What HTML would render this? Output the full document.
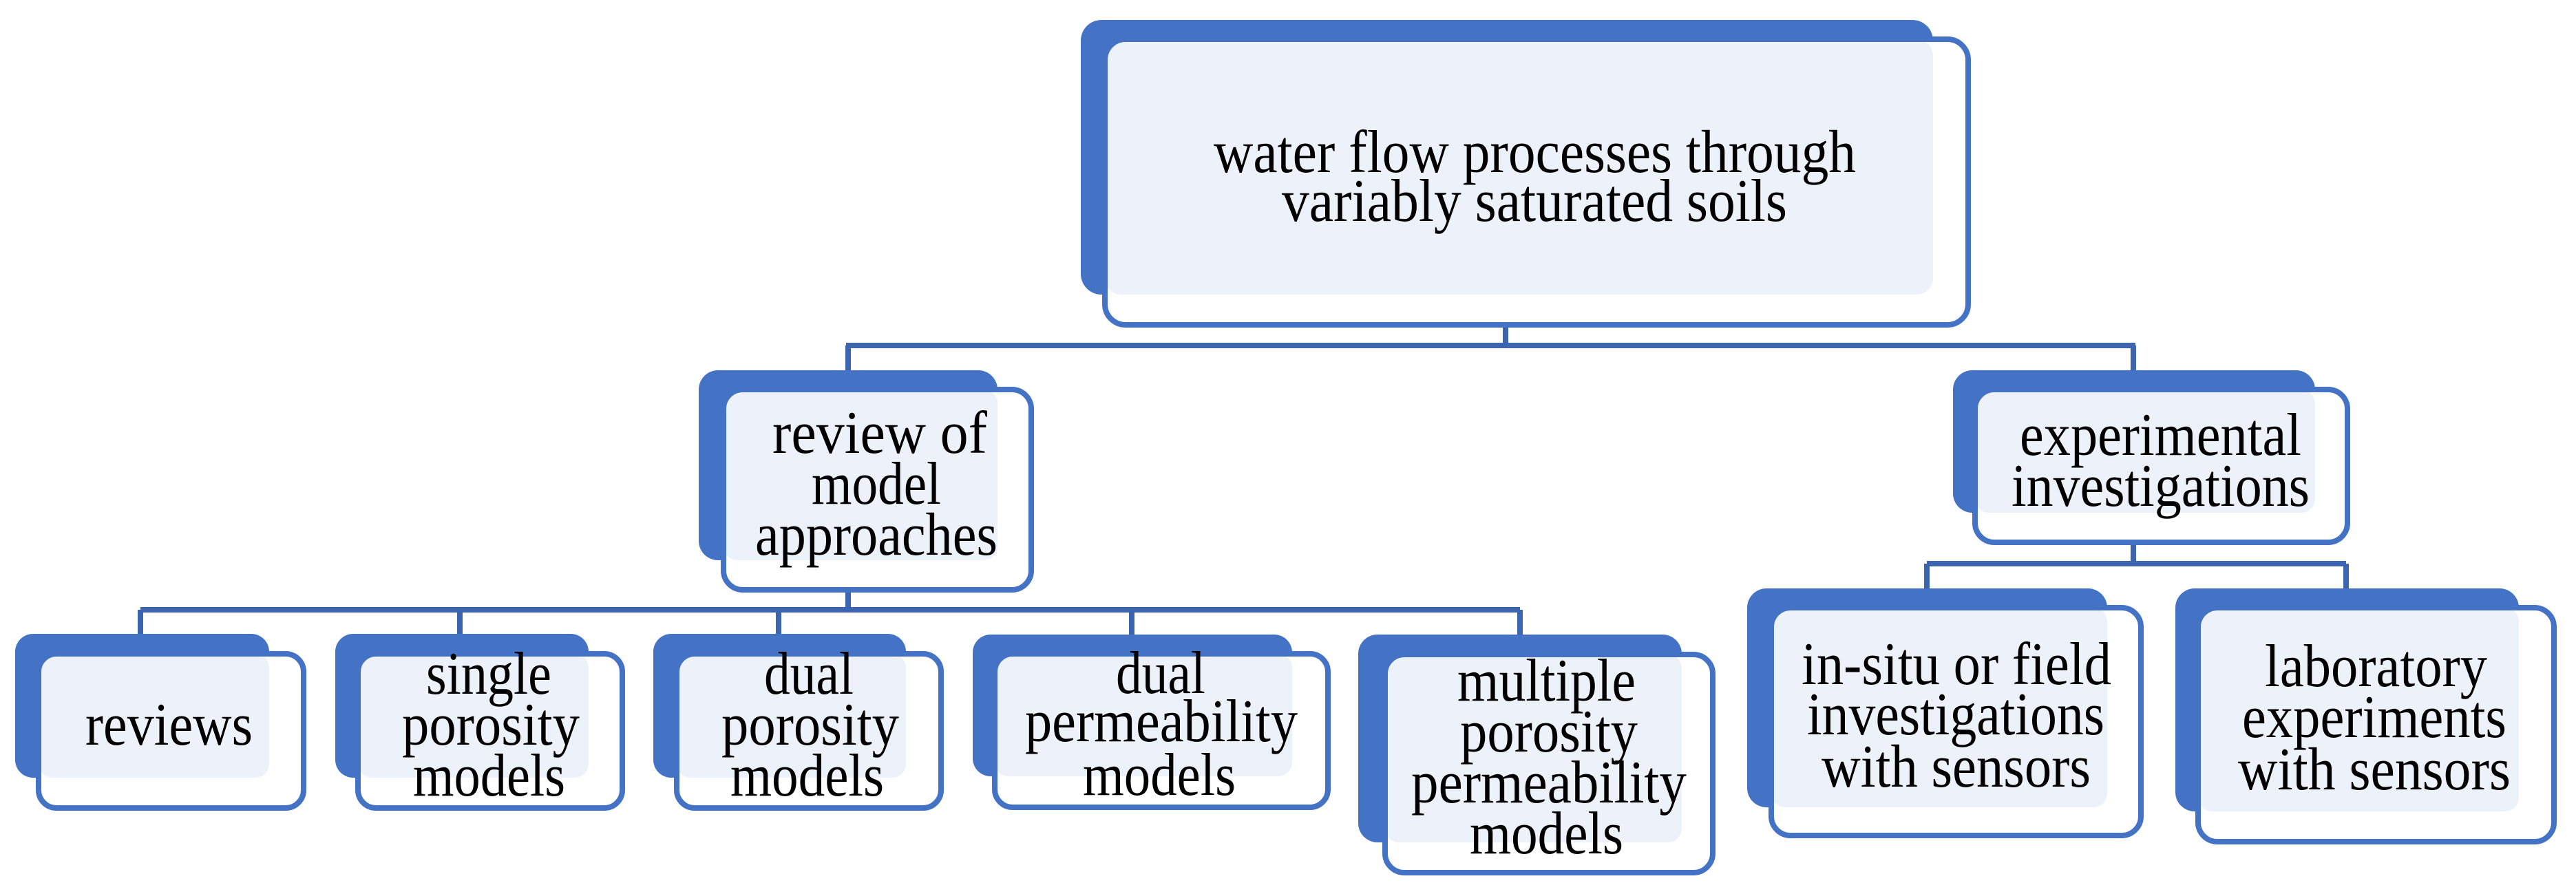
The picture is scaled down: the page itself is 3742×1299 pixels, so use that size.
<!DOCTYPE html>
<html><head><meta charset="utf-8"><style>
html,body{margin:0;padding:0;background:#fff;}
svg{display:block;}
text{font-family:"Liberation Serif",serif;font-size:88px;fill:#000;}
</style></head><body>
<svg width="3742" height="1299" viewBox="0 0 3742 1299" xmlns="http://www.w3.org/2000/svg">
<g stroke="#3D64AE" stroke-width="8" fill="none">
<path d="M2187 472V502M1229 502H3102M1232 502V540M3099 502V540"/>
<path d="M1232 857V886M204 886H2208M204 886V922M668 886V922M1131 886V922M1644 886V922M2208 886V922"/>
<path d="M3099 788V819M2799 819H3408M2799 819V856M3408 819V856"/>
</g>
<g id="nodes">
<rect x="1570" y="29" width="1238" height="399" rx="30" fill="#4472C4"/>
<rect x="1605" y="57" width="1254" height="415" rx="30" fill="#fff"/>
<rect x="1605" y="57" width="1203" height="371" rx="24" fill="#EDF1F9"/>
<rect x="1605" y="57" width="1254" height="415" rx="30" fill="none" stroke="#4472C4" stroke-width="8"/>
<rect x="1015" y="538" width="434" height="276" rx="28" fill="#4472C4"/>
<rect x="1051" y="566" width="447" height="291" rx="28" fill="#fff"/>
<rect x="1051" y="566" width="398" height="248" rx="20" fill="#EDF1F9"/>
<rect x="1051" y="566" width="447" height="291" rx="28" fill="none" stroke="#4472C4" stroke-width="8"/>
<rect x="2837" y="538" width="526" height="207" rx="28" fill="#4472C4"/>
<rect x="2869" y="566" width="541" height="222" rx="28" fill="#fff"/>
<rect x="2869" y="566" width="494" height="179" rx="20" fill="#EDF1F9"/>
<rect x="2869" y="566" width="541" height="222" rx="28" fill="none" stroke="#4472C4" stroke-width="8"/>
<rect x="22" y="921" width="369" height="209" rx="26" fill="#4472C4"/>
<rect x="56" y="950" width="385" height="224" rx="26" fill="#fff"/>
<rect x="56" y="950" width="335" height="180" rx="20" fill="#EDF1F9"/>
<rect x="56" y="950" width="385" height="224" rx="26" fill="none" stroke="#4472C4" stroke-width="8"/>
<rect x="487" y="921" width="368" height="209" rx="26" fill="#4472C4"/>
<rect x="520" y="950" width="384" height="224" rx="26" fill="#fff"/>
<rect x="520" y="950" width="335" height="180" rx="20" fill="#EDF1F9"/>
<rect x="520" y="950" width="384" height="224" rx="26" fill="none" stroke="#4472C4" stroke-width="8"/>
<rect x="949" y="921" width="367" height="209" rx="26" fill="#4472C4"/>
<rect x="983" y="950" width="384" height="224" rx="26" fill="#fff"/>
<rect x="983" y="950" width="333" height="180" rx="20" fill="#EDF1F9"/>
<rect x="983" y="950" width="384" height="224" rx="26" fill="none" stroke="#4472C4" stroke-width="8"/>
<rect x="1413" y="922" width="464" height="206" rx="26" fill="#4472C4"/>
<rect x="1445" y="950" width="484" height="223" rx="26" fill="#fff"/>
<rect x="1445" y="950" width="432" height="178" rx="20" fill="#EDF1F9"/>
<rect x="1445" y="950" width="484" height="223" rx="26" fill="none" stroke="#4472C4" stroke-width="8"/>
<rect x="1973" y="922" width="470" height="302" rx="28" fill="#4472C4"/>
<rect x="2012" y="951" width="476" height="317" rx="28" fill="#fff"/>
<rect x="2012" y="951" width="431" height="273" rx="20" fill="#EDF1F9"/>
<rect x="2012" y="951" width="476" height="317" rx="28" fill="none" stroke="#4472C4" stroke-width="8"/>
<rect x="2538" y="855" width="523" height="318" rx="28" fill="#4472C4"/>
<rect x="2573" y="883" width="537" height="331" rx="28" fill="#fff"/>
<rect x="2573" y="883" width="488" height="290" rx="20" fill="#EDF1F9"/>
<rect x="2573" y="883" width="537" height="331" rx="28" fill="none" stroke="#4472C4" stroke-width="8"/>
<rect x="3160" y="855" width="499" height="324" rx="28" fill="#4472C4"/>
<rect x="3193" y="883" width="517" height="340" rx="28" fill="#fff"/>
<rect x="3193" y="883" width="466" height="296" rx="20" fill="#EDF1F9"/>
<rect x="3193" y="883" width="517" height="340" rx="28" fill="none" stroke="#4472C4" stroke-width="8"/>
</g>
<g font-size="88" font-family="Liberation Serif, serif">
<text x="1763" y="250" textLength="933" lengthAdjust="spacingAndGlyphs">water flow processes through</text>
<text x="1862" y="321" textLength="734" lengthAdjust="spacingAndGlyphs">variably saturated soils</text>
<text x="1122" y="658" textLength="312" lengthAdjust="spacingAndGlyphs">review of</text>
<text x="1179" y="732" textLength="188" lengthAdjust="spacingAndGlyphs">model</text>
<text x="1097" y="806" textLength="352" lengthAdjust="spacingAndGlyphs">approaches</text>
<text x="2934" y="661" textLength="409" lengthAdjust="spacingAndGlyphs">experimental</text>
<text x="2922" y="735" textLength="433" lengthAdjust="spacingAndGlyphs">investigations</text>
<text x="124" y="1082" textLength="243" lengthAdjust="spacingAndGlyphs">reviews</text>
<text x="619" y="1008" textLength="182" lengthAdjust="spacingAndGlyphs">single</text>
<text x="584" y="1082" textLength="258" lengthAdjust="spacingAndGlyphs">porosity</text>
<text x="600" y="1156" textLength="221" lengthAdjust="spacingAndGlyphs">models</text>
<text x="1110" y="1008" textLength="130" lengthAdjust="spacingAndGlyphs">dual</text>
<text x="1048" y="1082" textLength="258" lengthAdjust="spacingAndGlyphs">porosity</text>
<text x="1061" y="1156" textLength="223" lengthAdjust="spacingAndGlyphs">models</text>
<text x="1621" y="1007" textLength="130" lengthAdjust="spacingAndGlyphs">dual</text>
<text x="1489" y="1077" textLength="396" lengthAdjust="spacingAndGlyphs">permeability</text>
<text x="1573" y="1155" textLength="222" lengthAdjust="spacingAndGlyphs">models</text>
<text x="2117" y="1018" textLength="259" lengthAdjust="spacingAndGlyphs">multiple</text>
<text x="2121" y="1092" textLength="258" lengthAdjust="spacingAndGlyphs">porosity</text>
<text x="2050" y="1166" textLength="400" lengthAdjust="spacingAndGlyphs">permeability</text>
<text x="2135" y="1240" textLength="223" lengthAdjust="spacingAndGlyphs">models</text>
<text x="2617" y="994" textLength="450" lengthAdjust="spacingAndGlyphs">in-situ or field</text>
<text x="2625" y="1067" textLength="432" lengthAdjust="spacingAndGlyphs">investigations</text>
<text x="2646" y="1143" textLength="391" lengthAdjust="spacingAndGlyphs">with sensors</text>
<text x="3290" y="997" textLength="323" lengthAdjust="spacingAndGlyphs">laboratory</text>
<text x="3257" y="1071" textLength="384" lengthAdjust="spacingAndGlyphs">experiments</text>
<text x="3251" y="1147" textLength="396" lengthAdjust="spacingAndGlyphs">with sensors</text>
</g>
</svg>
</body></html>
